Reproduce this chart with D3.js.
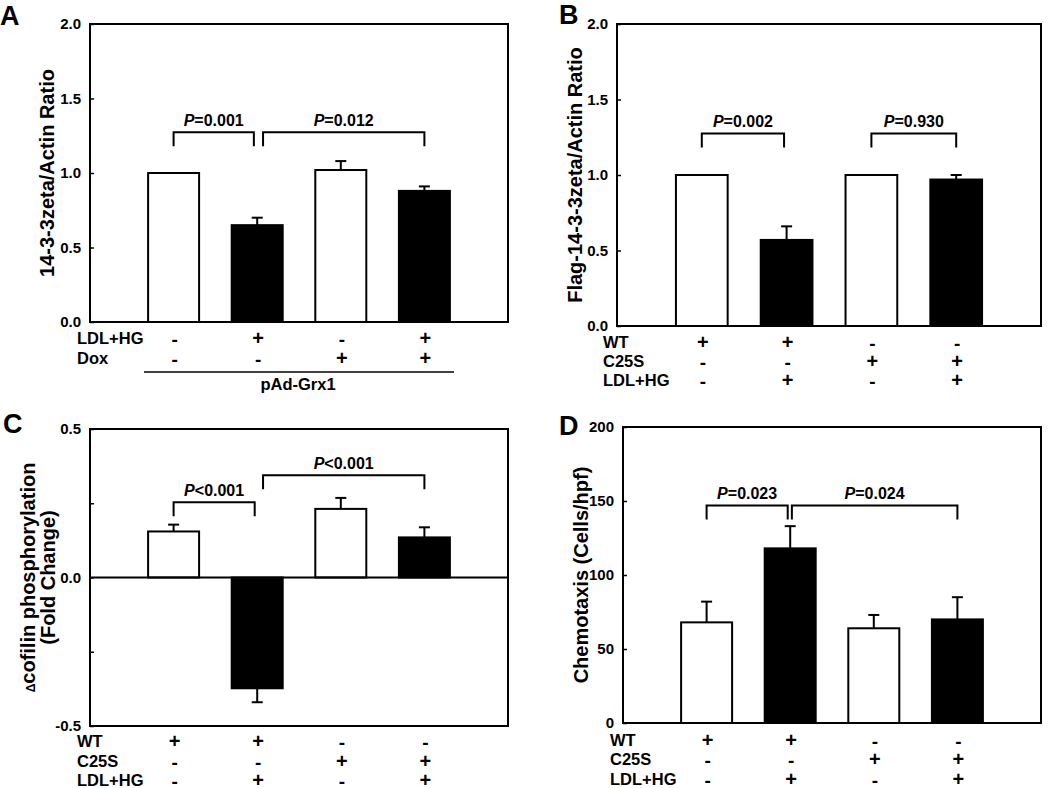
<!DOCTYPE html>
<html>
<head>
<meta charset="utf-8">
<script src="https://cdn.jsdelivr.net/npm/d3@7"></script>
<style>
  html, body { margin: 0; padding: 0; background: #fff; }
  svg { display: block; font-family: "Liberation Sans", Arial, sans-serif; font-weight: bold; }
</style>
</head>
<body>
<svg id="chart" width="1050" height="788"></svg>
<script>
// ---------------- DATA ----------------
const groupPositions = [1, 2, 3, 4];
const barFills = ["white", "black", "white", "black"];

// Panel A
const aValues = [1.0, 0.65, 1.02, 0.88];
const aErrors = [0, 0.05, 0.06, 0.03];
const aTicks = [0, 0.5, 1.0, 1.5, 2.0];
const aTickLabels = ["0.0", "0.5", "1.0", "1.5", "2.0"];
const aRowNames = ["LDL+HG", "Dox"];
const aRowSigns = [["-", "+", "-", "+"], ["-", "-", "+", "+"]];
const aBrackets = [
  { from: 1, to: 1.96, y: 1.273, label: "=0.001" },
  { from: 2.07, to: 4, y: 1.273, label: "=0.012" }
];
const aYLabel = ["14-3-3zeta/Actin Ratio"];

// Panel B
const bValues = [1.0, 0.57, 1.0, 0.97];
const bErrors = [0, 0.09, 0, 0.03];
const bTicks = [0, 0.5, 1.0, 1.5, 2.0];
const bTickLabels = ["0.0", "0.5", "1.0", "1.5", "2.0"];
const bcdRowNames = ["WT", "C25S", "LDL+HG"];
const bcdRowSigns = [["+", "+", "-", "-"], ["-", "-", "+", "+"], ["-", "+", "-", "+"]];
const bBrackets = [
  { from: 1, to: 1.97, y: 1.275, label: "=0.002" },
  { from: 3, to: 4, y: 1.275, label: "=0.930" }
];
const bYLabel = ["Flag-14-3-3zeta/Actin Ratio"];

// Panel C
const cValues = [0.155, -0.373, 0.231, 0.135];
const cErrors = [0.023, 0.047, 0.037, 0.034];
const cTicks = [-0.5, -0.25, 0, 0.25, 0.5];
const cTickLabels = ["-0.5", "", "0.0", "", "0.5"];
const cBrackets = [
  { from: 1, to: 1.97, y: 0.253, label: "<0.001" },
  { from: 2.07, to: 4, y: 0.344, label: "<0.001" }
];
const cYLabel = ["\u0394cofilin phosphorylation", "(Fold Change)"];

// Panel D
const dValues = [68, 118, 64, 70];
const dErrors = [14, 15, 9, 15];
const dTicks = [0, 50, 100, 150, 200];
const dTickLabels = ["0", "50", "100", "150", "200"];
const dBrackets = [
  { from: 1, to: 1.97, y: 147, label: "=0.023" },
  { from: 2.02, to: 4, y: 147, label: "=0.024" }
];
const dYLabel = ["Chemotaxis (Cells/hpf)"];

// ---------------- DRAW ----------------
const svg = d3.select("#chart");

function drawPanel(p) {
  const g = svg.append("g");
  const x = d3.scaleLinear().domain([0, 5]).range([p.left, p.left + p.width]);
  const y = d3.scaleLinear().domain(p.domain).range([p.top + p.height, p.top]);
  const bw = (x(1) - x(0)) * 0.61;

  // y axis ticks (inward) + labels
  const axis = d3.axisLeft(y).tickValues(p.ticks).tickSize(-4).tickPadding(9)
    .tickFormat((d, i) => p.tickLabels[i]);
  const ag = g.append("g").attr("transform", `translate(${p.left},0)`).call(axis);
  ag.select(".domain").remove();
  ag.selectAll(".tick line").attr("stroke", "#000").attr("stroke-width", 1.5);
  ag.selectAll(".tick text").attr("font-size", 15).attr("font-weight", "bold")
    .attr("font-family", "Liberation Sans, Arial, sans-serif").attr("fill", "#000");

  const y0 = y(0);
  // bars
  g.selectAll("rect.bar").data(p.values).enter().append("rect")
    .attr("class", "bar")
    .attr("x", (d, i) => x(groupPositions[i]) - bw / 2)
    .attr("width", bw)
    .attr("y", d => Math.min(y(d), y0))
    .attr("height", d => Math.abs(y(d) - y0))
    .attr("fill", (d, i) => barFills[i])
    .attr("stroke", "#000").attr("stroke-width", 2);

  // error bars
  p.values.forEach((v, i) => {
    const e = p.errors[i];
    if (!e) return;
    const cx = x(groupPositions[i]);
    const end = v >= 0 ? v + e : v - e;
    g.append("line").attr("x1", cx).attr("x2", cx).attr("y1", y(v)).attr("y2", y(end))
      .attr("stroke", "#000").attr("stroke-width", 2);
    g.append("line").attr("x1", cx - 5.5).attr("x2", cx + 5.5).attr("y1", y(end)).attr("y2", y(end))
      .attr("stroke", "#000").attr("stroke-width", 2);
  });

  if (p.domain[0] < 0) {
    g.append("line").attr("x1", p.left).attr("x2", p.left + p.width).attr("y1", y0).attr("y2", y0)
      .attr("stroke", "#000").attr("stroke-width", 2);
  }

  // frame
  g.append("rect").attr("x", p.left).attr("y", p.top).attr("width", p.width).attr("height", p.height)
    .attr("fill", "none").attr("stroke", "#000").attr("stroke-width", 2);

  // brackets
  p.brackets.forEach(b => {
    const x1 = x(b.from), x2 = x(b.to), yy = y(b.y);
    g.append("path").attr("d", `M${x1},${yy + 14}V${yy}H${x2}V${yy + 14}`)
      .attr("fill", "none").attr("stroke", "#000").attr("stroke-width", 2);
    const t = g.append("text").attr("x", (x1 + x2) / 2).attr("y", yy - 6)
      .attr("text-anchor", "middle").attr("font-size", 16).attr("fill", "#000");
    t.append("tspan").attr("font-style", "italic").text("P");
    t.append("tspan").text(b.label);
  });

  // condition rows
  p.rowNames.forEach((name, r) => {
    const ry = p.top + p.height + p.rowStart + r * p.rowStep;
    g.append("text").attr("x", p.rowLabelX).attr("y", ry).attr("dy", "0.36em")
      .attr("font-size", 16.5).attr("fill", "#000").text(name);
    p.rowSigns[r].forEach((s, i) => {
      g.append("text").attr("x", x(groupPositions[i]) + 1).attr("y", ry)
        .attr("dy", s === "+" ? "0.34em" : "0.42em")
        .attr("text-anchor", "middle").attr("font-size", s === "+" ? 20 : 19).attr("fill", "#000").text(s);
    });
  });

  // y label (baselines given as offsets from the plot's left edge)
  const cy = p.top + p.height / 2;
  p.yLabel.forEach((line, k) => {
    const bx = p.left + p.yLabelBaselines[k];
    const t = g.append("text")
      .attr("transform", `translate(${bx},${cy}) rotate(-90)`)
      .attr("text-anchor", "middle").attr("font-size", 20).attr("fill", "#000");
    if (line.startsWith("\u0394")) {
      t.append("tspan").attr("font-size", 12).text("\u0394");
      t.append("tspan").text(line.slice(1));
    } else {
      t.text(line);
    }
  });

  // panel letter
  g.append("text").attr("x", p.letterX).attr("y", p.letterY).attr("font-size", 27)
    .attr("fill", "#000").text(p.letter);

  return { x, y, g };
}

drawPanel({
  left: 90, top: 24, width: 418, height: 298, domain: [0, 2],
  ticks: aTicks, tickLabels: aTickLabels, values: aValues, errors: aErrors,
  brackets: aBrackets, rowNames: aRowNames, rowSigns: aRowSigns,
  rowStart: 16, rowStep: 20, rowLabelX: 77, yLabel: aYLabel, yLabelBaselines: [-36],
  letter: "A", letterX: 0, letterY: 25
});
// pAd-Grx1 underline
svg.append("line").attr("x1", 144).attr("x2", 454).attr("y1", 372).attr("y2", 372)
  .attr("stroke", "#000").attr("stroke-width", 1.5);
svg.append("text").attr("x", 298).attr("y", 390).attr("text-anchor", "middle")
  .attr("font-size", 16.5).attr("fill", "#000").text("pAd-Grx1");

drawPanel({
  left: 617, top: 24, width: 424, height: 302, domain: [0, 2],
  ticks: bTicks, tickLabels: bTickLabels, values: bValues, errors: bErrors,
  brackets: bBrackets, rowNames: bcdRowNames, rowSigns: bcdRowSigns,
  rowStart: 16, rowStep: 19, rowLabelX: 603, yLabel: bYLabel, yLabelBaselines: [-35],
  letter: "B", letterX: 559, letterY: 24
});

drawPanel({
  left: 90, top: 429, width: 418, height: 297, domain: [-0.5, 0.5],
  ticks: cTicks, tickLabels: cTickLabels, values: cValues, errors: cErrors,
  brackets: cBrackets, rowNames: bcdRowNames, rowSigns: bcdRowSigns,
  rowStart: 15.5, rowStep: 19.5, rowLabelX: 77, yLabel: cYLabel, yLabelBaselines: [-55, -35],
  letter: "C", letterX: 3, letterY: 433
});

drawPanel({
  left: 623, top: 427, width: 418, height: 296, domain: [0, 200],
  ticks: dTicks, tickLabels: dTickLabels, values: dValues, errors: dErrors,
  brackets: dBrackets, rowNames: bcdRowNames, rowSigns: bcdRowSigns,
  rowStart: 17, rowStep: 19.5, rowLabelX: 610, yLabel: dYLabel, yLabelBaselines: [-35],
  letter: "D", letterX: 559, letterY: 435
});
</script>
</body>
</html>
